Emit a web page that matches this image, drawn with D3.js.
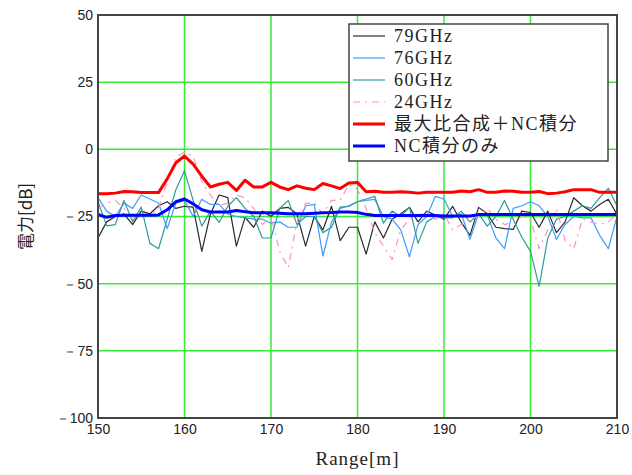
<!DOCTYPE html>
<html>
<head>
<meta charset="utf-8">
<script src="https://cdn.jsdelivr.net/npm/d3@7/dist/d3.min.js"></script>
<style>
  body { margin: 0; background: #fff; }
  svg text { fill: #222; }
</style>
</head>
<body>
<div id="chart"></div>
<script>
// range samples [m]
var ranges = [150,151,152,153,154,155,156,157,158,159,160,161,162,163,164,165,166,167,168,169,
              170,171,172,173,174,175,176,177,178,179,180,181,182,183,184,185,186,187,188,189,
              190,191,192,193,194,195,196,197,198,199,200,201,202,203,204,205,206,207,208,209,210];

// power [dB]
var ghz79 = [-33,-27,-25,-24,-28,-23,-24,-21,-19.5,-22,-21.2,-21.5,-38,-24,-17,-18,-36,-25.3,-29,-23,
             -25,-22,-21.6,-24,-36,-25,-30,-21.2,-34,-29,-29,-39,-27,-33,-26,-24,-21.6,-27,-23,-24.5,
             -26,-21.2,-27.2,-32,-21.6,-24,-29,-29.5,-29.8,-23,-23.5,-29,-23,-31,-27,-18,-21,-23,-20.5,-18.6,-24.2];
var ghz76 = [-18,-23,-25,-20,-22,-17,-18.5,-20,-29.5,-20,-19,-25,-18.6,-20.5,-20.5,-24,-25,-25.5,-26,-26,
             -27.5,-27,-29,-29,-21,-20.5,-39.7,-27,-22,-21,-19.5,-19,-18.6,-25,-26,-30,-40,-28,-25,-17.5,
             -18.5,-25,-24,-33.5,-24,-24.5,-33,-37,-22,-21,-19.5,-21,-25,-33.5,-28,-25,-25.5,-25.5,-32,-37,-25];
var ghz60 = [-19.5,-28.5,-28,-19,-27,-21.5,-35,-37,-26,-15,-8,-19,-28.6,-23,-27.2,-21.2,-18,-22,-25,-33,
             -33,-22,-19,-28,-25,-25,-31,-29,-21.5,-21.2,-19.5,-18.5,-17.5,-27.5,-23,-25,-21.5,-35,-27,-25,
             -25.5,-25.5,-23,-27,-24,-28.6,-25,-19,-26,-32.7,-38,-51,-33,-26,-25,-23,-21,-22,-18,-14.5,-21];
var ghz24 = [-22,-20,-19,-22,-26,-24,-25,-22,-12,-3,-1,-2.5,-12,-17,-21,-20,-17,-18,-22,-28,
             -25,-38,-44,-27,-20,-20,-24,-19,-19,-13,-15,-22,-31,-36,-41,-30,-26,-25,-23,-26,
             -24,-30,-28,-26,-25,-22,-26,-28,-27,-25,-26,-37,-30,-22,-34,-37,-26,-27,-28,-27,-24];
var mrcNc = [-16.5,-16.5,-16.3,-15.7,-15.8,-16.1,-16.1,-16.1,-11,-5,-2.5,-5.5,-10,-14,-13,-12.3,-15.3,-11.5,-14,-14,
             -12.3,-14,-15,-13.6,-14.5,-15,-12.7,-13.6,-14.6,-12.5,-12.3,-15.8,-15.6,-16,-16,-15.8,-16,-16.3,-16,-16,
             -16,-16,-15.5,-15.8,-15,-16,-16,-15.5,-15.6,-16,-16,-15.7,-16.5,-16.3,-15.8,-15,-15,-15,-16,-16,-16];
var ncOnly = [-24.2,-25.3,-24.6,-24.5,-24.5,-24.5,-24.5,-24.4,-22.5,-19.5,-18.5,-20.3,-22.5,-23.3,-23.3,-23.3,-22.8,-23.2,-23.6,-23.6,
              -23.6,-23.8,-24,-24,-24,-23.8,-23.6,-23.5,-23.3,-23.3,-23.5,-24.2,-24.6,-24.6,-24.6,-24.6,-24.6,-24.6,-24.6,-24.6,
              -24.8,-24.8,-24.8,-24.8,-24.3,-24.3,-24.3,-24.3,-24.3,-24.3,-24.3,-24.3,-24.3,-24.3,-24.3,-24.3,-24.3,-24.3,-24.3,-24.3,-24.3];

var seriesNames = ['79GHz', '76GHz', '60GHz', '24GHz', '最大比合成＋NC積分', 'NC積分のみ'];
var xTicks = [150, 160, 170, 180, 190, 200, 210];
var yTicks = [50, 25, 0, -25, -50, -75, -100];

var series = [
    {name: seriesNames[0], values: ghz79, color: '#2a2a2a', width: 1.2, dash: null},
    {name: seriesNames[1], values: ghz76, color: '#3d9bff', width: 1.2, dash: null},
    {name: seriesNames[2], values: ghz60, color: '#2e9a9a', width: 1.2, dash: null},
    {name: seriesNames[3], values: ghz24, color: '#ff8fc8', width: 1.2, dash: '7,5,2,5'},
    {name: seriesNames[4], values: mrcNc, color: '#ff0000', width: 3, dash: null},
    {name: seriesNames[5], values: ncOnly, color: '#0000ff', width: 3, dash: null}
];

var width = 632, height = 475;
var margin = {top: 15, right: 15, bottom: 57, left: 98};
var w = width - margin.left - margin.right;
var h = height - margin.top - margin.bottom;

var svg = d3.select('#chart').append('svg')
    .attr('width', width).attr('height', height);

var g = svg.append('g').attr('transform', 'translate(' + margin.left + ',' + margin.top + ')');

var x = d3.scaleLinear().domain([150, 210]).range([0, w]);
var y = d3.scaleLinear().domain([-100, 50]).range([h, 0]);

var fmt = function(v) { return v < 0 ? '－' + Math.abs(v) : String(v); };

// grid
g.append('g').selectAll('line').data(xTicks).enter().append('line')
    .attr('x1', function(d) { return x(d); }).attr('x2', function(d) { return x(d); })
    .attr('y1', 0).attr('y2', h)
    .attr('stroke', '#33ee33').attr('stroke-width', 1.5);
g.append('g').selectAll('line').data(yTicks).enter().append('line')
    .attr('x1', 0).attr('x2', w)
    .attr('y1', function(d) { return y(d); }).attr('y2', function(d) { return y(d); })
    .attr('stroke', '#33ee33').attr('stroke-width', 1.5);

// axes (labels only, frame drawn below)
var yAxis = g.append('g').call(d3.axisLeft(y).tickValues(yTicks).tickFormat(fmt).tickSize(0).tickPadding(5));
var xAxis = g.append('g').attr('transform', 'translate(0,' + h + ')')
    .call(d3.axisBottom(x).tickValues(xTicks).tickFormat(fmt).tickSize(0).tickPadding(6));
[yAxis, xAxis].forEach(function(a) {
    a.select('.domain').remove();
    a.selectAll('text').attr('font-family', 'Liberation Sans, Arial, sans-serif')
        .attr('font-size', 14).attr('fill', '#222');
});

// lines
g.append('clipPath').attr('id', 'clip').append('rect').attr('width', w).attr('height', h);
var line = d3.line()
    .x(function(d, i) { return x(ranges[i]); })
    .y(function(d) { return y(d); });

g.append('g').attr('clip-path', 'url(#clip)')
    .selectAll('path').data(series).enter().append('path')
    .attr('d', function(s) { return line(s.values); })
    .attr('fill', 'none')
    .attr('stroke', function(s) { return s.color; })
    .attr('stroke-width', function(s) { return s.width; })
    .attr('stroke-dasharray', function(s) { return s.dash; })
    .attr('stroke-linejoin', 'round');

// frame
g.append('rect').attr('width', w).attr('height', h)
    .attr('fill', 'none').attr('stroke', '#444').attr('stroke-width', 2);

// legend
var lg = svg.append('g').attr('transform', 'translate(349,24)');
lg.append('rect').attr('width', 259).attr('height', 137)
    .attr('fill', '#fff').attr('stroke', '#444').attr('stroke-width', 1.5);
var item = lg.selectAll('.item').data(series).enter().append('g')
    .attr('transform', function(d, i) { return 'translate(0,' + (12 + i * 22) + ')'; });
item.append('line').attr('x1', 4).attr('x2', 36).attr('y1', 0).attr('y2', 0)
    .attr('stroke', function(s) { return s.color; })
    .attr('stroke-width', function(s) { return s.width; })
    .attr('stroke-dasharray', function(s) { return s.dash; });
item.append('text').attr('x', 45).attr('y', 6)
    .attr('font-family', 'Liberation Serif, DejaVu Serif, Noto Sans CJK JP, serif')
    .attr('font-size', 18).attr('letter-spacing', 1.5)
    .text(function(s) { return s.name; });

// axis titles
svg.append('text')
    .attr('transform', 'translate(32,' + (margin.top + y(-25)) + ') rotate(-90)')
    .attr('text-anchor', 'middle')
    .attr('font-family', 'Noto Sans CJK JP, sans-serif').attr('font-size', 17)
    .text('電力[dB]');
svg.append('text')
    .attr('x', margin.left + w / 2).attr('y', 465)
    .attr('text-anchor', 'middle')
    .attr('font-family', 'Liberation Serif, DejaVu Serif, serif').attr('font-size', 19)
    .attr('letter-spacing', 1)
    .text('Range[m]');
</script>
</body>
</html>
